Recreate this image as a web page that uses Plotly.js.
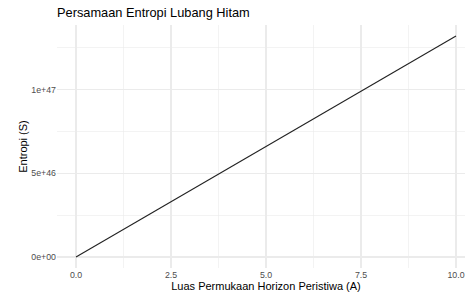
<!DOCTYPE html>
<html>
<head>
<meta charset="utf-8">
<script src="https://cdn.plot.ly/plotly-3.0.1.min.js"></script>
<style>
html,body{margin:0;padding:0;overflow:hidden;background:#fff;width:465px;height:298px;}
#chart{width:475px;height:298px;}
</style>
</head>
<body>
<div id="chart"></div>
<script>
// Data
const luas = [0, 2.5, 5, 7.5, 10];
const entropi = [0, 3.3e46, 6.6e46, 9.9e46, 1.32e47];
const xTickVals = [0, 2.5, 5, 7.5, 10];
const xTickText = ["0.0", "2.5", "5.0", "7.5", "10.0"];
const yTickVals = [0, 5e46, 1e47];
const yTickText = ["0e+00", "5e+46", "1e+47"];

const font = "Liberation Sans, Arial, sans-serif";
const grid = "#EBEBEB";

Plotly.newPlot("chart", [{
  x: luas, y: entropi, type: "scatter", mode: "lines",
  line: {color: "#222222", width: 1.1}, hoverinfo: "skip"
}], {
  width: 475, height: 298,
  margin: {l: 57, r: 0, t: 25, b: 30},
  paper_bgcolor: "#fff", plot_bgcolor: "#fff",
  showlegend: false,
  font: {family: font},
  title: {text: "Persamaan Entropi Lubang Hitam", x: 57/475, xref: "container", xanchor: "left",
          y: 1 - 12.5/298, yref: "container", yanchor: "middle",
          font: {size: 12.8, color: "#000", family: font}},
  xaxis: {
    range: [-0.5, 10.5], tickvals: xTickVals, ticktext: xTickText,
    showgrid: true, gridcolor: grid, gridwidth: 1.1, zeroline: false, showline: false,
    ticks: "", tickfont: {size: 8.8, color: "#4D4D4D"},
    minor: {tickvals: [1.25, 3.75, 6.25, 8.75], showgrid: true, gridcolor: grid, gridwidth: 0.6},
    title: {text: "Luas Permukaan Horizon Peristiwa (A)", font: {size: 11, color: "#000"}, standoff: 3}
  },
  yaxis: {
    range: [-6.6e45, 1.386e47], tickvals: yTickVals, ticktext: yTickText,
    showgrid: true, gridcolor: grid, gridwidth: 1.1, zeroline: false, showline: false,
    ticks: "", tickfont: {size: 8.8, color: "#4D4D4D"},
    minor: {tickvals: [2.5e46, 7.5e46, 1.25e47], showgrid: true, gridcolor: grid, gridwidth: 0.6},
    title: {text: "Entropi (S)", font: {size: 11, color: "#000"}, standoff: 1}
  }
}, {displayModeBar: false, staticPlot: true});
</script>
</body>
</html>
